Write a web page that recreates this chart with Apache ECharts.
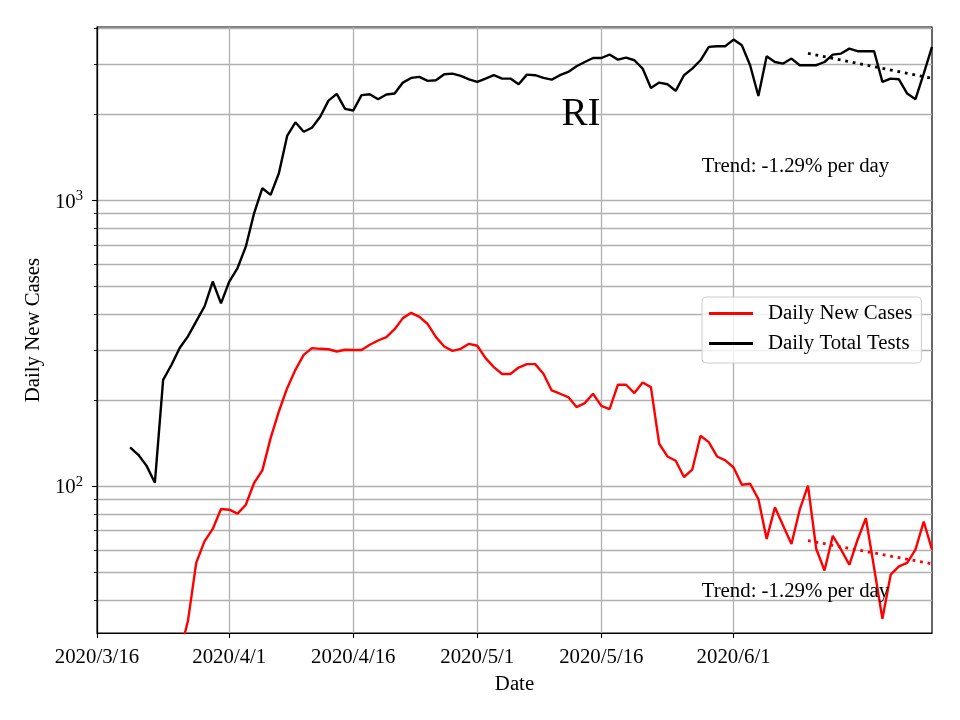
<!DOCTYPE html>
<html>
<head>
<meta charset="utf-8">
<script src="https://cdn.jsdelivr.net/npm/echarts@6/dist/echarts.min.js"></script>
<style>html,body{margin:0;padding:0;background:#fff}#c{width:960px;height:720px}</style>
</head>
<body>
<div id="c"></div>
<script>
// ---- data ----
const startDate = [2020, 3, 16];
const dayCount = 102; // 2020/3/16 .. 2020/6/25
const xTickLabels = ['2020/3/16', '2020/4/1', '2020/4/16', '2020/5/1', '2020/5/16', '2020/6/1'];
const yMajorTicks = [100, 1000];
const yMinorTicks = [40, 50, 60, 70, 80, 90, 200, 300, 400, 500, 600, 700, 800, 900, 2000, 3000, 4000];

// Daily New Cases (day 0 = 2020/3/16)
const dailyNewCases = [
  null, null, null, null, null, null, null, null, null, null,
  26, 33.8, 54.0, 64.2, 71.0, 83.4, 82.9, 80.3, 86.3, 102.8,
  113.8, 147.6, 182.9, 220.7, 255.8, 288.7, 304.8, 303, 302, 296.5,
  300.8, 300, 300, 313, 324, 333, 354.8, 388, 405, 392,
  370, 333, 308.7, 298, 303, 315.5, 310.5, 281, 261.5, 247.3,
  247.3, 260.6, 267.9, 267.9, 247.7, 216.6, 211, 205.4, 189.5, 195.7,
  211, 191.4, 186.5, 226.8, 226.8, 212.2, 231, 222.6, 141, 127.3,
  123, 107.9, 114.4, 150.4, 142.9, 127.3, 123.3, 116.5, 101.4, 102.2,
  90.3, 65.5, 84.5, 72.9, 62.9, 82.9, 100.6, 60.4, 50.8, 67.2,
  60.1, 53.2, 65.1, 77.5, 51.8, 34.4, 49.1, 52.5, 54.0, 60.1,
  75.4, 60.1
];

// Daily Total Tests
const dailyTotalTests = [
  null, null, null, null, 137, 129, 118, 103, 236, 266,
  305, 335, 378, 426, 521, 437, 521, 581, 690, 903,
  1105, 1047, 1247, 1684, 1879, 1742, 1799, 1966, 2238, 2362,
  2094, 2066, 2340, 2355, 2263, 2350, 2369, 2588, 2687, 2710,
  2624, 2637, 2768, 2782, 2730, 2658, 2602, 2673, 2746, 2673,
  2673, 2553, 2760, 2746, 2687, 2651, 2746, 2820, 2951, 3055,
  3155, 3155, 3243, 3114, 3165, 3098, 2897, 2478, 2588, 2553,
  2421, 2746, 2897, 3098, 3450, 3470, 3470, 3660, 3496, 2977,
  2323, 3200, 3055, 3016, 3140, 2977, 2977, 2977, 3055, 3243,
  3269, 3402, 3332, 3332, 3332, 2602, 2673, 2658, 2369, 2263,
  2780, 3450
];

// Trend lines (start / end)
const trendDates = ['2020/6/10', '2020/6/25'];
const trendCases = [64.6, 53.6];
const trendTests = [3277, 2680];
const trendText = 'Trend: -1.29% per day';
const stateLabel = 'RI';

// ---- build categories ----
const categories = [];
for (let i = 0; i < dayCount; i++) {
  const d = new Date(Date.UTC(startDate[0], startDate[1] - 1, startDate[2] + i));
  categories.push(d.getUTCFullYear() + '/' + (d.getUTCMonth() + 1) + '/' + d.getUTCDate());
}
const isTick = (idx, val) => xTickLabels.indexOf(categories[idx]) >= 0;

const FONT = 'Liberation Serif';
const FS = 20.8;
const chart = echarts.init(document.getElementById('c'), null, {renderer: 'canvas'});

const yCommon = {
  type: 'log', logBase: 10, min: 30.7, max: 4050, position: 'left', offset: 0
};
const gridLine = {color: '#b0b0b0', width: 1.3};

chart.setOption({
  animation: false,
  textStyle: {fontFamily: FONT},
  grid: {left: 97, right: 28, top: 27, bottom: 87, show: true, borderColor: '#000', borderWidth: 1.2, backgroundColor: 'transparent'},
  legend: {
    data: ['Daily New Cases', 'Daily Total Tests'],
    orient: 'vertical', left: 702, top: 297,
    padding: [6, 9, 9, 7], itemGap: 9,
    itemWidth: 44, itemHeight: 3, icon: 'rect',
    borderColor: '#cccccc', borderWidth: 1, borderRadius: 4,
    backgroundColor: 'rgba(255,255,255,0.8)',
    textStyle: {fontFamily: FONT, fontSize: FS, color: '#000', padding: [0, 0, 0, 10]}
  },
  xAxis: {
    type: 'category', data: categories, boundaryGap: false,
    name: 'Date', nameLocation: 'middle', nameGap: 41,
    nameTextStyle: {fontFamily: FONT, fontSize: FS, color: '#000'},
    axisLine: {show: true, lineStyle: {color: '#000', width: 1.2}},
    axisTick: {show: true, inside: false, length: 5, interval: isTick, lineStyle: {color: '#000', width: 1.1}},
    axisLabel: {show: true, interval: isTick, margin: 14, fontFamily: FONT, fontSize: FS, color: '#000'},
    splitLine: {show: true, interval: isTick, lineStyle: gridLine}
  },
  yAxis: [
    Object.assign({}, yCommon, {
      name: 'Daily New Cases', nameLocation: 'middle', nameGap: 52,
      nameTextStyle: {fontFamily: FONT, fontSize: FS, color: '#000'},
      axisLine: {show: true, lineStyle: {color: '#000', width: 1.2}},
      axisTick: {show: true, inside: false, length: 5, customValues: yMajorTicks, lineStyle: {color: '#000', width: 1.1}},
      axisLabel: {
        show: true, margin: 14, customValues: yMajorTicks,
        formatter: function (v) { return '{b|10}{s|' + Math.round(Math.log10(v)) + '}'; },
        rich: {
          b: {fontFamily: FONT, fontSize: FS, color: '#000', lineHeight: 24, verticalAlign: 'bottom'},
          s: {fontFamily: FONT, fontSize: 14.6, color: '#000', lineHeight: 14, verticalAlign: 'top'}
        }
      },
      splitLine: {show: true, customValues: yMajorTicks, lineStyle: gridLine}
    }),
    Object.assign({}, yCommon, {
      axisLine: {show: false},
      axisTick: {show: true, inside: false, length: 3, customValues: yMinorTicks, lineStyle: {color: '#000', width: 0.9}},
      axisLabel: {show: false, customValues: yMinorTicks},
      splitLine: {show: true, customValues: yMinorTicks, lineStyle: gridLine}
    })
  ],
  series: [
    {name: 'Daily New Cases', type: 'line', data: dailyNewCases, yAxisIndex: 0,
     showSymbol: false, symbol: 'none', connectNulls: false, clip: true,
     lineStyle: {color: '#ff0000', width: 2.4}, itemStyle: {color: '#ff0000'}, z: 3},
    {name: 'Daily Total Tests', type: 'line', data: dailyTotalTests, yAxisIndex: 0,
     showSymbol: false, symbol: 'none', connectNulls: false, clip: true,
     lineStyle: {color: '#000000', width: 2.4}, itemStyle: {color: '#000000'}, z: 3},
    {name: 'trendCases', type: 'line', yAxisIndex: 0, symbol: 'none', silent: true,
     data: [[trendDates[0], trendCases[0]], [trendDates[1], trendCases[1]]],
     lineStyle: {color: '#ff0000', width: 2.8, type: [2.8, 4.8]}, z: 3},
    {name: 'trendTests', type: 'line', yAxisIndex: 0, symbol: 'none', silent: true,
     data: [[trendDates[0], trendTests[0]], [trendDates[1], trendTests[1]]],
     lineStyle: {color: '#000000', width: 2.8, type: [2.8, 4.8]}, z: 3}
  ],
  graphic: [
    {type: 'text', x: 581, y: 115, z: 10,
     style: {text: stateLabel, fontFamily: FONT, fontSize: 39, fill: '#000', textAlign: 'center', textVerticalAlign: 'middle', verticalAlign: 'middle'}},
    {type: 'text', x: 701.7, y: 167, z: 10,
     style: {text: trendText, fontFamily: FONT, fontSize: FS, fill: '#000', textAlign: 'left', textVerticalAlign: 'middle', verticalAlign: 'middle'}},
    {type: 'text', x: 701.7, y: 591.5, z: 10,
     style: {text: trendText, fontFamily: FONT, fontSize: FS, fill: '#000', textAlign: 'left', textVerticalAlign: 'middle', verticalAlign: 'middle'}}
  ]
});
</script>
</body>
</html>
